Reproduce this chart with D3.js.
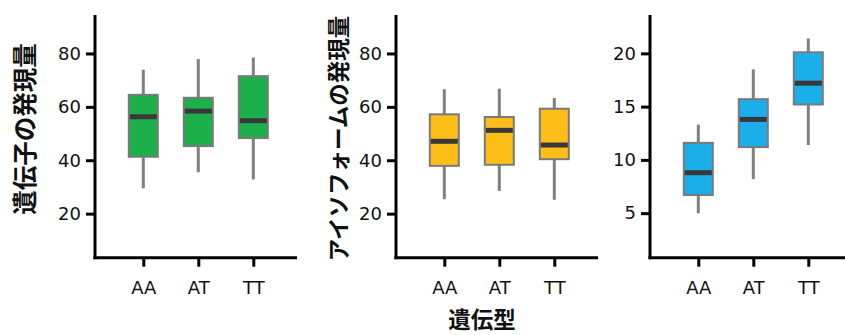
<!DOCTYPE html>
<html><head><meta charset="utf-8">
<script src="https://cdn.jsdelivr.net/npm/d3@7"></script>
<style>
html,body{margin:0;padding:0;background:#fff;}
svg{display:block;}
.tick text{font-family:"DejaVu Sans",sans-serif;font-size:18px;fill:#111;}
.jp{font-family:"Noto Sans CJK JP",sans-serif;fill:#111;}
</style>
</head><body>
<svg id="chart" width="845" height="335"></svg>
<script>
const categories = ["AA", "AT", "TT"];

const geneLow    = [29.5, 35.5, 32.8];
const geneQ1     = [41.3, 45.3, 48.3];
const geneMedian = [56.3, 58.4, 54.8];
const geneQ3     = [64.5, 63.4, 71.5];
const geneHigh   = [73.9, 77.9, 78.5];

const isoLow    = [25.4, 28.5, 25.2];
const isoQ1     = [37.9, 38.3, 40.4];
const isoMedian = [47.1, 51.2, 45.7];
const isoQ3     = [57.2, 56.2, 59.3];
const isoHigh   = [66.6, 66.8, 63.3];

const ratioLow    = [5.0, 8.2, 11.4];
const ratioQ1     = [6.7, 11.2, 15.2];
const ratioMedian = [8.8, 13.8, 17.2];
const ratioQ3     = [11.6, 15.7, 20.1];
const ratioHigh   = [13.3, 18.5, 21.4];

const expressionTicks = [20, 40, 60, 80];
const ratioTicks = [5, 10, 15, 20];

const yLabels = ["遺伝子の発現量", "アイソフォームの発現量", ""];
const xTitle = "遺伝型";

const svg = d3.select("#chart");
const plotTop = 15, plotBottom = 257.7, plotW = 202;

const panels = [
  {left: 95, low: geneLow, q1: geneQ1, med: geneMedian, q3: geneQ3, high: geneHigh,
   domain: [3.5, 94.4], ticks: expressionTicks, color: "#1bb04a", label: yLabels[0], labelX: 23, labelY: 129, labelSize: 24.5},
  {left: 396, low: isoLow, q1: isoQ1, med: isoMedian, q3: isoQ3, high: isoHigh,
   domain: [3.5, 94.4], ticks: expressionTicks, color: "#fdbe17", label: yLabels[1], labelX: 337, labelY: 138.5, labelSize: 22.5},
  {left: 650, low: ratioLow, q1: ratioQ1, med: ratioMedian, q3: ratioQ3, high: ratioHigh,
   domain: [0.82, 23.6], ticks: ratioTicks, color: "#1aaeeb", label: yLabels[2]}
];

panels.forEach(p => {
  const g = svg.append("g");
  const y = d3.scaleLinear().domain(p.domain).range([plotBottom, plotTop]);
  const x = d3.scalePoint().domain(categories).range([p.left + 48.3, p.left + 158.3]);

  const ya = g.append("g").attr("transform", `translate(${p.left},0)`)
    .call(d3.axisLeft(y).tickValues(p.ticks).tickSize(9).tickSizeOuter(0).tickPadding(5));
  ya.select(".domain").remove();
  ya.selectAll(".tick line").attr("stroke", "#000").attr("stroke-width", 3);

  const xa = g.append("g").attr("transform", `translate(0,${plotBottom})`)
    .call(d3.axisBottom(x).tickSize(9).tickSizeOuter(0).tickPadding(15));
  xa.select(".domain").remove();
  xa.selectAll(".tick line").attr("stroke", "#000").attr("stroke-width", 3);
  xa.selectAll(".tick text").attr("dy", "0.71em");

  g.append("line").attr("x1", p.left).attr("x2", p.left).attr("y1", plotTop).attr("y2", plotBottom + 1.5)
    .attr("stroke", "#000").attr("stroke-width", 3);
  g.append("line").attr("x1", p.left - 1.5).attr("x2", p.left + plotW).attr("y1", plotBottom).attr("y2", plotBottom)
    .attr("stroke", "#000").attr("stroke-width", 3);

  const boxW = 29;
  const idx = d3.range(categories.length);
  g.selectAll(".wh").data(idx).join("line")
    .attr("x1", i => x(categories[i])).attr("x2", i => x(categories[i]))
    .attr("y1", i => y(p.low[i])).attr("y2", i => y(p.high[i]))
    .attr("stroke", "#808080").attr("stroke-width", 3);
  g.selectAll(".bx").data(idx).join("rect")
    .attr("x", i => x(categories[i]) - boxW / 2).attr("width", boxW)
    .attr("y", i => y(p.q3[i])).attr("height", i => y(p.q1[i]) - y(p.q3[i]))
    .attr("fill", p.color).attr("stroke", "#7a7a7a").attr("stroke-width", 2);
  g.selectAll(".md").data(idx).join("line")
    .attr("x1", i => x(categories[i]) - boxW / 2 + 1).attr("x2", i => x(categories[i]) + boxW / 2 - 1)
    .attr("y1", i => y(p.med[i])).attr("y2", i => y(p.med[i]))
    .attr("stroke", "#383838").attr("stroke-width", 5);

  if (p.label) {
    g.append("text").attr("class", "jp")
      .attr("transform", `translate(${p.labelX},${p.labelY}) rotate(-90)`)
      .attr("text-anchor", "middle").attr("dominant-baseline", "central")
      .attr("font-size", p.labelSize).attr("font-weight", "bold")
      .text(p.label);
  }
});

svg.append("text").attr("class", "jp")
  .attr("x", 482).attr("y", 318)
  .attr("text-anchor", "middle").attr("dominant-baseline", "central")
  .attr("font-size", 22.5).attr("font-weight", "bold")
  .text(xTitle);
</script>
</body></html>
